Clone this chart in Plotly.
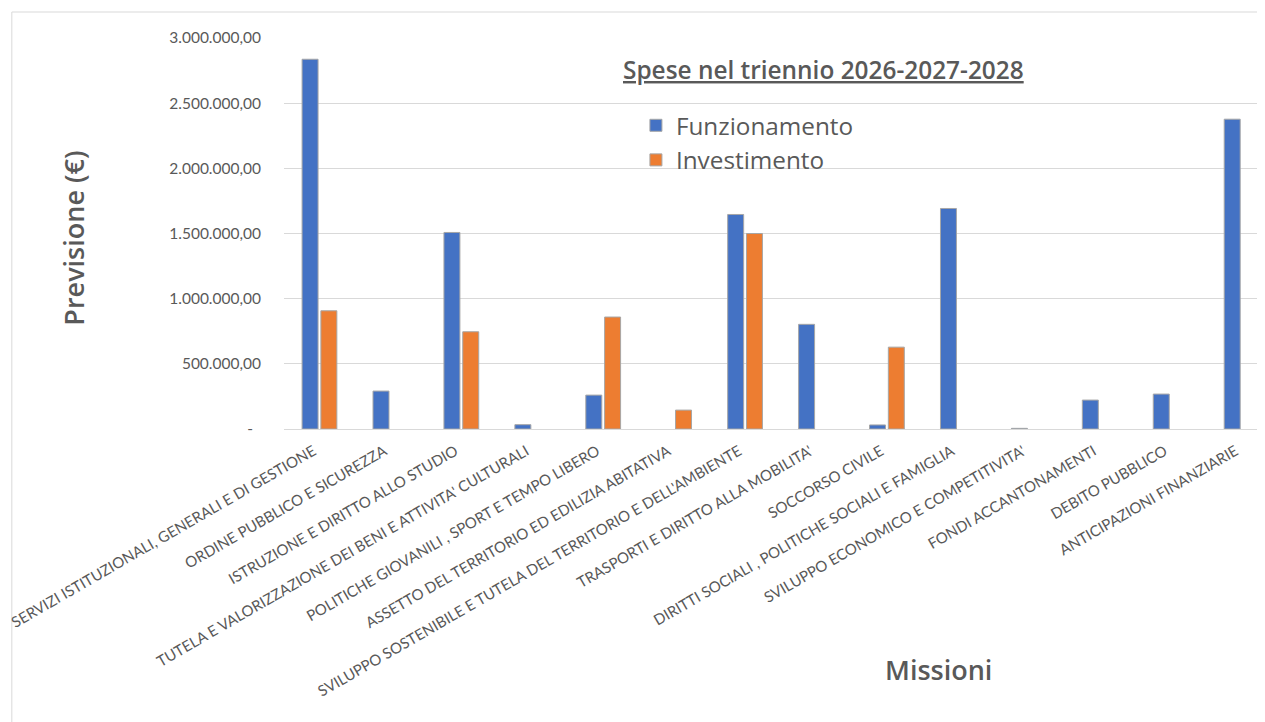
import plotly.graph_objects as go

categories = [
    "SERVIZI ISTITUZIONALI, GENERALI E DI GESTIONE",
    "ORDINE PUBBLICO E SICUREZZA",
    "ISTRUZIONE E DIRITTO ALLO STUDIO",
    "TUTELA E VALORIZZAZIONE DEI BENI E ATTIVITA' CULTURALI",
    "POLITICHE GIOVANILI , SPORT E TEMPO LIBERO",
    "ASSETTO DEL TERRITORIO ED EDILIZIA ABITATIVA",
    "SVILUPPO SOSTENIBILE E TUTELA DEL TERRITORIO E DELL'AMBIENTE",
    "TRASPORTI E DIRITTO ALLA MOBILITA'",
    "SOCCORSO CIVILE",
    "DIRITTI SOCIALI , POLITICHE SOCIALI E FAMIGLIA",
    "SVILUPPO ECONOMICO E COMPETITIVITA'",
    "FONDI ACCANTONAMENTI",
    "DEBITO PUBBLICO",
    "ANTICIPAZIONI FINANZIARIE",
]
# None = no spending in that mission (Excel draws nothing)
funzionamento = [2837000, 291000, 1508000, 33000, 260000, None, 1646000,
                 803000, 31000, 1692000, 5000, 222000, 268000, 2377000]
investimento = [907000, None, 746000, None, 859000, 145000, 1500000,
                None, 628000, None, None, None, None, None]
y_tickvals = [0, 500000, 1000000, 1500000, 2000000, 2500000, 3000000]
y_ticktext = ["-\u00a0\u00a0", "500.000,00", "1.000.000,00", "1.500.000,00",
              "2.000.000,00", "2.500.000,00", "3.000.000,00"]

TICKFONT = "Lato"
FONT = "Open Sans"
GRAY = "#595959"

fig = go.Figure()
fig.add_trace(go.Bar(x=categories, y=funzionamento, name="Funzionamento",
                     marker=dict(color="#4472C4", line=dict(color="#A6A6A6", width=1))))
fig.add_trace(go.Bar(x=categories, y=investimento, name="Investimento",
                     marker=dict(color="#ED7D31", line=dict(color="#A6A6A6", width=1))))

# page body has an 8px margin; figure sized so the page is 1265x722
OFF = 8
W, H = 1265 - OFF, 722 - OFF
ML, MT = 281 - OFF, 38 - OFF
PH = 391
MB = H - MT - PH
plot_w = W - ML
spacing = 71.15


def px(x):
    return (x - 281) / plot_w


def py(y):
    return (429 - y) / PH


fig.update_layout(
    width=W, height=H,
    margin=dict(l=ML, r=0, t=MT, b=MB, pad=0),
    paper_bgcolor="white", plot_bgcolor="white",
    barmode="group", bargap=0.47, bargroupgap=0.15,
    font=dict(family=FONT, color=GRAY),
    showlegend=True,
    legend=dict(x=px(634), y=py(103), xanchor="left", yanchor="top",
                font=dict(size=24.3, color=GRAY, family=FONT), bgcolor="rgba(0,0,0,0)",
                tracegroupgap=0, itemwidth=30),
    xaxis=dict(range=[-0.5, -0.5 + plot_w / spacing], tickangle=-30,
               tickfont=dict(size=15, color=GRAY, family=TICKFONT),
               ticklabelshift=-6, ticklabelstandoff=7,
               showline=True, linecolor="#D9D9D9", linewidth=1, ticks="",
               showgrid=False, fixedrange=True),
    yaxis=dict(range=[0, 3000000], tickvals=y_tickvals, ticktext=y_ticktext,
               tickfont=dict(size=15.5, color=GRAY, family=TICKFONT),
               showgrid=True, gridcolor="#D9D9D9", gridwidth=1,
               zeroline=False, showline=False, ticks="", ticklabelstandoff=22),
    annotations=[
        dict(text="<u>Spese nel triennio 2026-2027-2028</u>", xref="paper", yref="paper",
             x=px(822), y=py(69), xanchor="center", yanchor="middle",
             showarrow=False, font=dict(size=24.4, color=GRAY, family=FONT, weight=600)),
        dict(text="Previsione (€)", xref="paper", yref="paper",
             x=px(70), y=py(238), xanchor="center", yanchor="middle",
             textangle=-90, showarrow=False, font=dict(size=27, color=GRAY, family=FONT, weight=600)),
        dict(text="Missioni", xref="paper", yref="paper",
             x=px(938), y=py(670), xanchor="center", yanchor="middle",
             showarrow=False, font=dict(size=27, color=GRAY, family=FONT, weight=600)),
    ],
    shapes=[
        dict(type="rect", xref="paper", yref="paper",
             x0=px(8), x1=1.05, y0=py(760), y1=py(12),
             line=dict(color="#D9D9D9", width=1), fillcolor="rgba(0,0,0,0)", layer="below"),
    ],
)

fig.write_html("out.html")
